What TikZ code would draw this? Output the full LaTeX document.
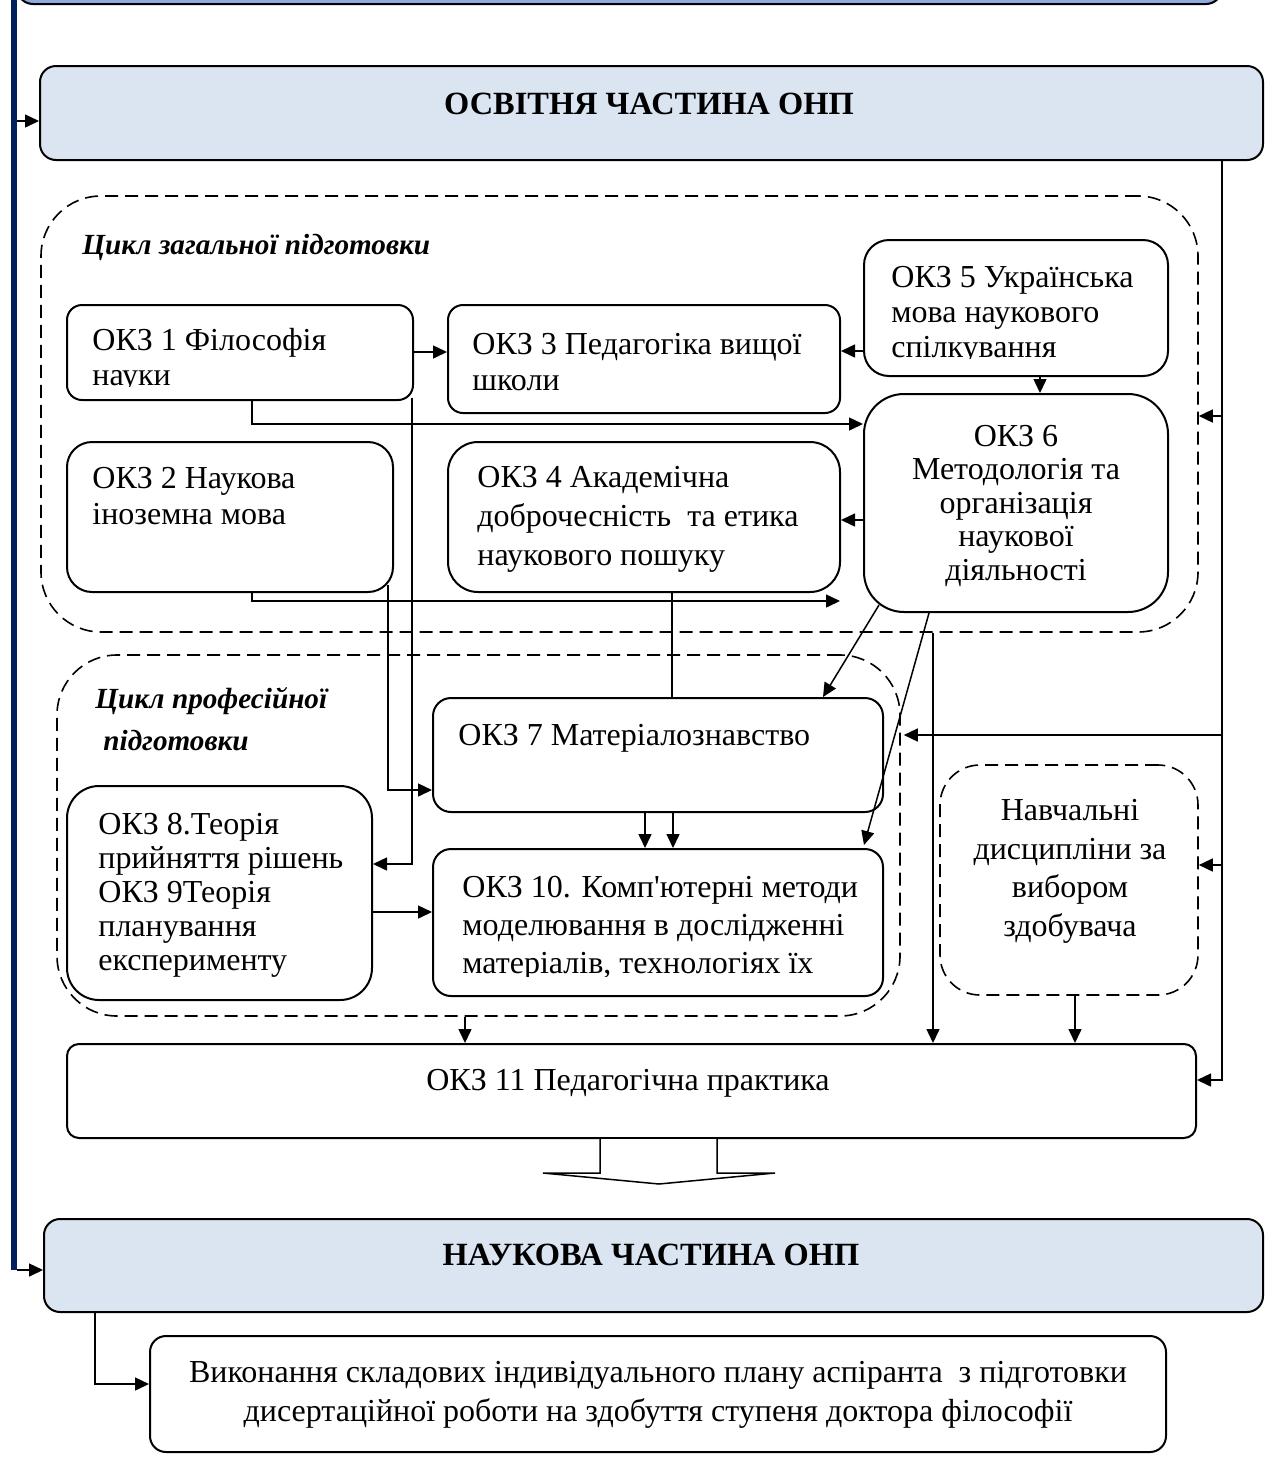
\documentclass[tikz,border=0pt]{standalone}
\usepackage{fontspec}
\setmainfont{Liberation Serif}[Ligatures=TeXOff]
\usetikzlibrary{arrows.meta,calc,fit}
\definecolor{navybar}{RGB}{0,32,96}
\definecolor{lightblue}{RGB}{219,228,241}
\definecolor{midblue}{RGB}{143,170,220}
\begin{document}
\begin{tikzpicture}[x=0.5pt,y=-0.5pt,
  box/.style={draw=black,line width=1pt,fill=white,inner sep=0pt,rounded corners=#1},
  box/.default=7.5pt,
  dloop/.style={draw=black,line width=0.8pt,dash pattern=on 6.5pt off 3.5pt,inner sep=0pt,rounded corners=#1},
  dloop/.default=30pt,
  ln/.style={line width=0.75pt},
  arr/.style={line width=0.75pt,-{Triangle[length=7pt,width=6.5pt]}},
  txt/.style={inner sep=0pt,font=\fontsize{16}{17.5}\selectfont,align=left,anchor=base west},
  ctxt/.style={inner sep=0pt,font=\fontsize{16}{17.5}\selectfont,align=center,anchor=base},
  ttl/.style={inner sep=0pt,font=\bfseries\fontsize{16.2}{17.5}\selectfont,anchor=base},
  cyc/.style={inner sep=0pt,font=\bfseries\itshape\fontsize{14.6}{21}\selectfont,align=left,anchor=base west}
]
\useasboundingbox (0,0) rectangle (1273,1457);
\clip (0,0) rectangle (1273,1457);

% top partial box and side bar
\node[box=8pt,fill=midblue,fit={(17,-60) (1222,4)}] (top) {};
\node[fill=navybar,inner sep=0pt,fit={(11,-5) (17,1270)}] (bar) {};

% main headers
\node[box=8pt,fill=lightblue,fit={(40,66) (1263,160)}] (osv) {};
\node[ttl] (osvt) at (649,114) {ОСВІТНЯ ЧАСТИНА ОНП};

% cycle loops
\node[dloop=30pt,fit={(41,196) (1198,632)}] (gen) {};
\node[cyc] (genl) at (82,254) {Цикл загальної підготовки};
\node[dloop=30pt,fit={(57,655) (900,1016)}] (prof) {};
\node[cyc] (profl) at (95,750) {Цикл професійної\\\hspace*{4pt}підготовки};

% boxes of the general cycle
\node[box=7.5pt,fit={(67,305) (413,400)}] (ok1) {};
\node[box=7.5pt,fit={(448,305) (840,413)}] (ok3) {};
\node[box=12.5pt,fit={(864,240) (1168,376)}] (ok5) {};
\node[box=20pt,fit={(864,394) (1168,612)}] (ok6) {};
\node[box=12.5pt,fit={(67,442) (393,592)}] (ok2) {};
\node[box=15pt,fit={(448,442) (840,592)}] (ok4) {};

% boxes of the professional cycle
\node[box=9pt,fit={(433,698) (883,812)}] (ok7) {};
\node[box=9pt,fit={(433,849) (883,996)}] (ok10) {};
\node[box=16pt,fit={(67,786) (372,1000)}] (ok8) {};
\node[dloop=20pt,fill=white,fit={(940,765) (1198,995)}] (nav) {};

\node[box=6pt,fit={(67,1044) (1196,1138)}] (ok11) {};
\node[box=8pt,fill=lightblue,fit={(44,1219) (1263,1312)}] (nauk) {};
\node[box=8pt,fit={(150,1336) (1166,1452)}] (fin) {};

% texts (anchor = baseline of the last line)
\begin{scope}
\clip (60,300) rectangle (420,386);
\node[txt] (ok1t) at (92,385) {ОКЗ 1 Філософія\\науки};
\end{scope}
\node[txt,font=\fontsize{16}{18}\selectfont] (ok3t) at (472,390) {ОКЗ 3 Педагогіка вищої\\школи};
\begin{scope}
\clip (860,235) rectangle (1170,358);
\node[txt] (ok5t) at (891,357) {ОКЗ 5 Українська\\мова наукового\\спілкування};
\end{scope}
\node[ctxt,font=\fontsize{16}{16.7}\selectfont] (ok6t) at (1016,580) {ОКЗ 6\\Методологія та\\організація\\наукової\\діяльності};
\node[txt,font=\fontsize{16}{18}\selectfont] (ok2t) at (92,524) {ОКЗ 2 Наукова\\іноземна мова};
\node[txt,font=\fontsize{16}{19.5}\selectfont] (ok4t) at (477,565) {ОКЗ 4 Академічна\\доброчесність\ \ та етика\\наукового пошуку};
\node[txt] (ok7t) at (458,745) {ОКЗ 7 Матеріалознавство};
\begin{scope}
\clip (430,845) rectangle (886,976);
\node[txt,font=\fontsize{16}{19}\selectfont] (ok10t) at (462,973) {ОКЗ 10. Комп'ютерні методи\\моделювання в дослідженні\\матеріалів, технологіях їх};
\end{scope}
\node[txt,font=\fontsize{16}{17}\selectfont] (ok8t) at (98,970) {ОКЗ 8.Теорія\\прийняття рішень\\ОКЗ 9Теорія\\планування\\експерименту};
\node[ctxt,font=\fontsize{16}{19.25}\selectfont] (navt) at (1070,936) {Навчальні\\дисципліни за\\вибором\\здобувача};
\node[ctxt] (ok11t) at (628,1090) {ОКЗ 11 Педагогічна практика};
\node[ttl] (naukt) at (651,1265) {НАУКОВА ЧАСТИНА ОНП};
\node[ctxt,font=\fontsize{16}{19.25}\selectfont] (fint) at (658,1421) {Виконання складових індивідуального плану аспіранта\ \ з підготовки\\дисертаційної роботи на здобуття ступеня доктора філософії};

% connectors
\draw[arr] (bar.east |- 0,121) -- (osv.west |- 0,121);
\draw[arr] (bar.east |- 0,1270) -- (nauk.west |- 0,1270);

\draw[arr] (ok1.east |- 0,352) -- (ok3.west |- 0,352);
\draw[arr] (ok5.west |- 0,351) -- (ok3.east |- 0,351);
\draw[arr] (ok5.south -| 1040,0) -- (ok6.north -| 1040,0);
\draw[arr] (ok1.south -| 252,0) |- (ok6.west |- 0,424);
\draw[arr] (ok6.west |- 0,520) -- (ok4.east |- 0,520);
\coordinate (ok6tip) at (840,601);
\draw[arr] (ok2.south -| 252,0) |- (ok6tip);
\draw[arr] ($(ok1.south east)+(-2,-3)$) |- (ok8.east |- 0,864);
\draw[arr] ($(ok2.south east)+(-6,-8)$) |- (ok7.west |- 0,790);
\draw[ln] (ok4.south -| 672,0) -- (ok7.north -| 672,0);
\draw[arr] ($(ok6.south west)+(16,-8)$) -- (ok7.north -| 823,0);
\draw[arr] (ok6.south -| 929,0) -- ($(ok10.north -| 864,0)+(0,-3)$);
\draw[arr] (gen.south -| 933,0) -- (ok11.north -| 933,0);

\draw[arr] (ok7.south -| 645,0) -- (ok10.north -| 645,0);
\draw[arr] (ok7.south -| 673,0) -- (ok10.north -| 673,0);
\draw[arr] (ok8.east |- 0,912) -- (ok10.west |- 0,912);

% right trunk
\draw[arr] (osv.south -| 1222,0) |- (ok11.east |- 0,1080);
\coordinate (tr1) at (1222,416);
\coordinate (tr2) at (1222,735);
\coordinate (tr3) at (1222,865);
\draw[arr] (tr1) -- (gen.east |- tr1);
\draw[arr] (tr2) -- ($(prof.east |- tr2)+(3,0)$);
\draw[arr] (tr3) -- (nav.east |- tr3);

\draw[arr] (nav.south -| 1075,0) -- (ok11.north -| 1075,0);
\draw[arr] (prof.south -| 465,0) -- (ok11.north -| 465,0);

% block arrow
\draw[line width=0.75pt,fill=white] (ok11.south -| 600,0) -- (600,1173) -- (543,1173) -- (659,1184) -- (775,1173) -- (717,1173) -- (ok11.south -| 717,0);

\draw[arr] (nauk.south -| 95,0) |- (fin.west |- 0,1384);
\end{tikzpicture}
\end{document}
